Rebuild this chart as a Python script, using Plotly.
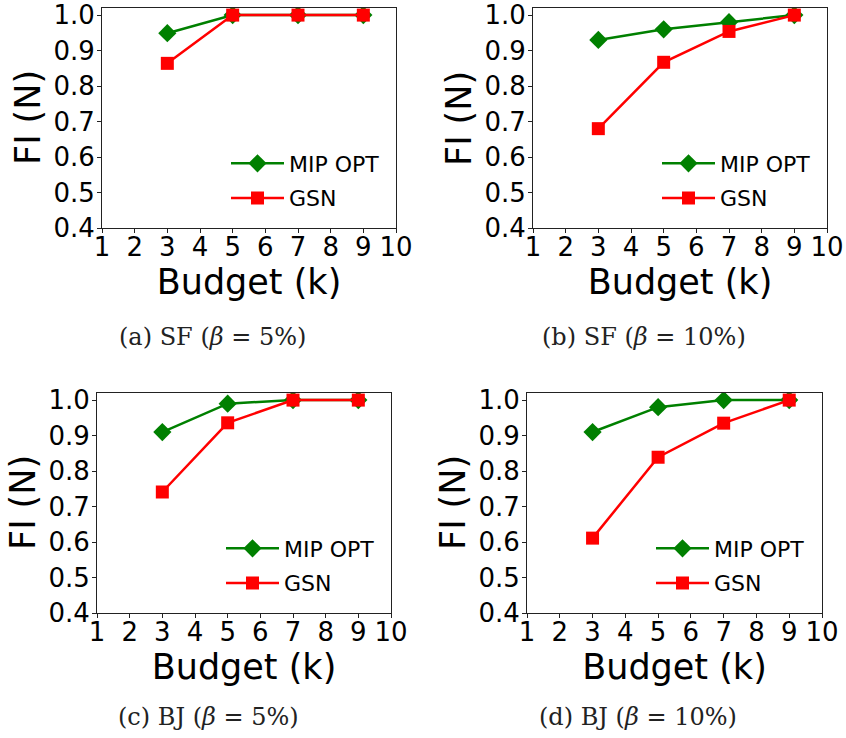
import plotly.graph_objects as go

budget = [3, 5, 7, 9]
series_names = ["MIP OPT", "GSN"]
captions = ["(a) SF (<i>β</i> = 5%)", "(b) SF (<i>β</i> = 10%)",
            "(c) BJ (<i>β</i> = 5%)", "(d) BJ (<i>β</i> = 10%)"]
x_title = "Budget (k)"
y_title = "FI (N)"

mip_sf5 = [0.949, 1.0, 1.0, 1.0]
gsn_sf5 = [0.864, 1.0, 1.0, 1.0]
mip_sf10 = [0.93, 0.96, 0.98, 1.0]
gsn_sf10 = [0.68, 0.867, 0.954, 1.0]
mip_bj5 = [0.91, 0.99, 1.0, 1.0]
gsn_bj5 = [0.741, 0.936, 1.0, 1.0]
mip_bj10 = [0.91, 0.98, 1.0, 1.0]
gsn_bj10 = [0.611, 0.839, 0.935, 1.0]

x_ticks = [1, 2, 3, 4, 5, 6, 7, 8, 9, 10]
y_ticks = [0.4, 0.5, 0.6, 0.7, 0.8, 0.9, 1.0]

W, H = 846, 738
panels = [
    # (mip, gsn, x0px, x1px, ytop_px, ybot_px, caption_x, caption_y)
    (mip_sf5, gsn_sf5, 102, 396, 8, 228, 213, 337),
    (mip_sf10, gsn_sf10, 533, 827, 8, 228, 644, 337),
    (mip_bj5, gsn_bj5, 97, 391, 393, 613, 208, 717),
    (mip_bj10, gsn_bj10, 527, 822, 393, 613, 638, 717),
]

FONT = "DejaVu Sans"
fig = go.Figure()
annotations = []
layout = dict(
    width=W, height=H, margin=dict(l=0, r=0, t=0, b=0, autoexpand=False),
    paper_bgcolor="white", plot_bgcolor="white",
    font=dict(family=FONT, color="black"),
)

for i, (mip, gsn, x0, x1, yt, yb, cx, cy) in enumerate(panels):
    n = "" if i == 0 else str(i + 1)
    xa, ya = "x" + n, "y" + n
    leg = "legend" + n
    fig.add_trace(go.Scatter(
        x=budget, y=mip, name=series_names[0], mode="lines+markers",
        line=dict(color="#008000", width=2.5),
        marker=dict(symbol="diamond", size=14, color="#008000"),
        xaxis=xa, yaxis=ya, legend=leg, legendgroup="a" + n))
    fig.add_trace(go.Scatter(
        x=budget, y=gsn, name=series_names[1], mode="lines+markers",
        line=dict(color="#ff0000", width=2.5),
        marker=dict(symbol="square", size=13, color="#ff0000"),
        xaxis=xa, yaxis=ya, legend=leg, legendgroup="b" + n))

    axis_common = dict(showline=True, linecolor="#222222", linewidth=1, mirror=True,
                       ticks="outside", ticklen=4, tickcolor="#222222",
                       showgrid=False, zeroline=False, automargin=False,
                       ticklabeloverflow="allow",
                       tickfont=dict(family=FONT, size=26, color="black"))
    layout["xaxis" + n] = dict(
        domain=[x0 / W, x1 / W], anchor=ya, range=[1, 10],
        tickvals=x_ticks, ticktext=[str(v) for v in x_ticks],
        ticklabelstandoff=-8,
        title=dict(text=x_title, font=dict(family=FONT, size=35), standoff=0),
        **axis_common)
    layout["yaxis" + n] = dict(
        domain=[1 - yb / H, 1 - yt / H], anchor=xa, range=[0.4, 1.02],
        tickvals=y_ticks, ticktext=["%.1f" % v for v in y_ticks],
        ticklabelstandoff=-3,
        **axis_common)
    layout[leg] = dict(
        x=(x0 + 124) / W, y=1 - (yt + 173) / H, xanchor="left", yanchor="middle",
        bgcolor="rgba(0,0,0,0)", borderwidth=0,
        font=dict(family=FONT, size=22, color="black"),
        traceorder="grouped", tracegroupgap=3, itemwidth=53)
    # y-axis title placed as rotated text beside the tick labels
    annotations.append(dict(
        text=y_title, x=(x0 - 74) / W, y=1 - ((yt + yb) / 2) / H,
        xref="paper", yref="paper", xanchor="center", yanchor="middle",
        textangle=-90, showarrow=False,
        font=dict(family=FONT, size=35, color="black")))
    annotations.append(dict(
        text=captions[i], x=cx / W, y=1 - cy / H, xref="paper", yref="paper",
        xanchor="center", yanchor="middle", showarrow=False,
        font=dict(family="DejaVu Serif", size=24, color="#222222")))

layout["annotations"] = annotations
fig.update_layout(**layout)
fig.write_html("out.html")
